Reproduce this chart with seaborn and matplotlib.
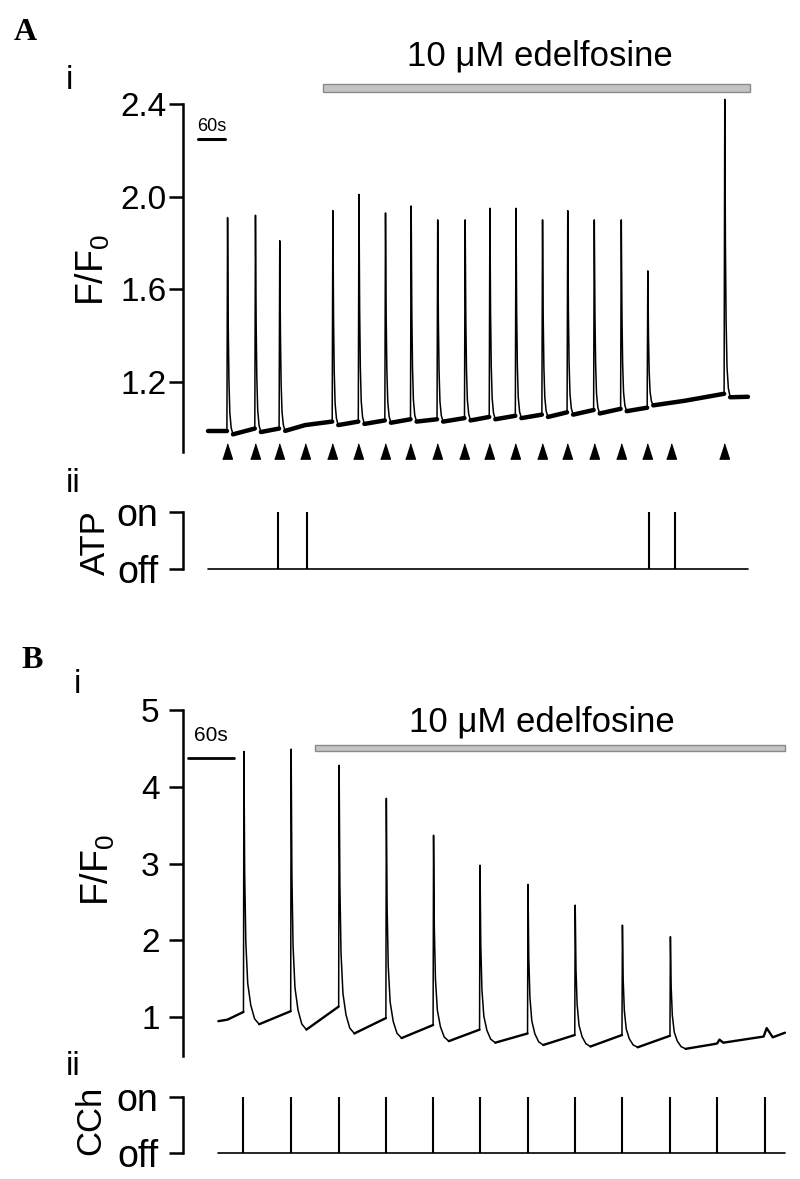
import numpy as np
import pandas as pd
import matplotlib
matplotlib.use("Agg")
import matplotlib.pyplot as plt
import seaborn as sns
from matplotlib.patches import Rectangle

# ---- panel A: ATP-evoked Ca2+ transients (time in s from trace start) ----
a_stim_t = [42, 104, 158, 216, 276, 334, 393, 450, 509, 570, 625, 683, 742, 798,
            857, 917, 976, 1030, 1147]
a_resp_t = [42, 104, 158, 276, 334, 393, 450, 509, 570, 625, 683, 742, 798, 857,
            917, 976, 1147]
a_peak = [1.91, 1.92, 1.81, 1.94, 2.01, 1.93, 1.96, 1.90, 1.90, 1.95, 1.95, 1.90,
          1.94, 1.90, 1.90, 1.68, 2.42]
a_pre = [0.99, 1.00, 1.00, 1.03, 1.03, 1.035, 1.04, 1.04, 1.045, 1.05, 1.055, 1.06,
         1.07, 1.08, 1.085, 1.09, 1.15]
a_post = [0.975, 0.985, 0.99, 1.015, 1.02, 1.025, 1.03, 1.03, 1.035, 1.04, 1.045,
          1.05, 1.06, 1.065, 1.075, 1.10, 1.135]
a_base_t = [0, 216, 1060, 1200]
a_base_v = [0.99, 1.015, 1.12, 1.137]
a_atp_t = [156, 219, 979, 1037]
a_drug = [255, 1204]
a_yticks = [1.2, 1.6, 2.0, 2.4]
a_yticklabels = ["1.2", "1.6", "2.0", "2.4"]

# ---- panel B: CCh-evoked Ca2+ transients ----
b_cch_t = [33, 95, 158, 220, 282, 343, 406, 468, 530, 593, 655, 718]
b_resp_t = [33, 95, 158, 220, 282, 343, 406, 468, 530, 593]
b_peak = [4.46, 4.49, 4.28, 3.85, 3.37, 2.98, 2.73, 2.46, 2.20, 2.05]
b_pre = [1.07, 1.08, 1.14, 0.99, 0.90, 0.84, 0.79, 0.77, 0.77, 0.76]
b_post = [0.91, 0.84, 0.79, 0.73, 0.69, 0.67, 0.64, 0.62, 0.61, 0.59]
b_base_t = [0, 12, 650, 655, 658, 663, 716, 720, 728, 744]
b_base_v = [0.95, 0.97, 0.65, 0.66, 0.71, 0.67, 0.75, 0.86, 0.74, 0.80]
b_drug = [127, 744]
b_yticks = [1, 2, 3, 4, 5]
b_yticklabels = ["1", "2", "3", "4", "5"]

# shape of one transient after its peak (s after peak, fraction of amplitude)
a_decay_dt = [0, 1.5, 3, 5, 8, 12]
a_decay_fr = [1, 0.5, 0.25, 0.1, 0.03, 0]
b_decay_dt = [0, 1, 2.5, 5, 9, 14, 20]
b_decay_fr = [1, 0.55, 0.3, 0.15, 0.07, 0.02, 0]

W, H = 800, 1179


def build_trace(base_t, base_v, resp_t, pre, peak, post, rise, dt, fr):
    spikes, bases = [], []
    seg_t, seg_v = [base_t[0]], [base_v[0]]
    for i, (t, a, p, b) in enumerate(zip(resp_t, pre, peak, post)):
        for kt, kv in zip(base_t, base_v):
            if seg_t[-1] < kt < t:
                seg_t.append(kt)
                seg_v.append(kv)
        seg_t.append(t)
        seg_v.append(a)
        bases.append(pd.DataFrame({"t": seg_t, "v": seg_v, "unit": i}))
        st = [t] + [t + rise + d for d in dt]
        sv = [a] + [b + (p - b) * f for f in fr]
        spikes.append(pd.DataFrame({"t": st, "v": sv, "unit": i}))
        seg_t, seg_v = [st[-1]], [sv[-1]]
    for kt, kv in zip(base_t, base_v):
        if kt > seg_t[-1]:
            seg_t.append(kt)
            seg_v.append(kv)
    bases.append(pd.DataFrame({"t": seg_t, "v": seg_v, "unit": len(resp_t)}))
    return pd.concat(bases, ignore_index=True), pd.concat(spikes, ignore_index=True)


def add_axes_px(left, top, right, bottom):
    return fig.add_axes([left / W, 1 - bottom / H, (right - left) / W, (bottom - top) / H])


def fig_text(x, y, s, **kw):
    fig.text(x / W, 1 - y / H, s, **kw)


def style_axis(ax, bounds, ticks, labels, size, pad):
    for side in ["top", "right", "bottom"]:
        ax.spines[side].set_visible(False)
    ax.spines["left"].set_bounds(*bounds)
    ax.spines["left"].set_linewidth(1.8)
    ax.spines["left"].set_color("black")
    ax.set_xticks([])
    ax.set_yticks(ticks)
    ax.set_yticklabels(labels)
    ax.tick_params(axis="y", length=10, width=1.8, direction="out", pad=pad,
                   labelsize=size, left=True, color="black", labelcolor="black")
    ax.set_xlabel("")
    ax.set_ylabel("")


sns.set_style("white")
plt.rcParams["font.family"] = ["Liberation Sans", "DejaVu Sans"]
plt.rcParams["mathtext.fontset"] = "custom"
plt.rcParams["mathtext.rm"] = "Liberation Sans"
plt.rcParams["text.color"] = "black"

fig = plt.figure(figsize=(W / 100, H / 100), dpi=100)

# ---------------- A i ----------------
ax = add_axes_px(183.3, 92.4, 752, 461)
base, spk = build_trace(a_base_t, a_base_v, a_resp_t, a_pre, a_peak, a_post,
                        1.5, a_decay_dt, a_decay_fr)
sns.lineplot(data=base, x="t", y="v", units="unit", estimator=None, sort=False,
             color="black", linewidth=3.2, ax=ax, legend=False)
sns.lineplot(data=spk, x="t", y="v", units="unit", estimator=None, sort=False,
             color="black", linewidth=1.1, ax=ax, legend=False)
arrow = [(-0.32, -0.5), (0.32, -0.5), (0, 0.5)]
ax.plot(a_stim_t, [0.905] * len(a_stim_t), linestyle="none", marker=arrow,
        markersize=11, color="black", clip_on=False)
ax.set_xlim(-54.9, 1209)
ax.set_ylim(0.86, 2.45)
style_axis(ax, (0.9, 2.4), a_yticks, a_yticklabels, 24, 2)
ax.plot([-22, 38], [2.249, 2.249], color="black", linewidth=2.2)
ax.text(8, 2.285, "60s", ha="center", va="baseline", fontsize=13)
ax.add_patch(Rectangle((a_drug[0], 2.45), a_drug[1] - a_drug[0], 0.036,
                       facecolor="#c4c4c4", edgecolor="#8a8a8a", linewidth=1,
                       clip_on=False))

# ---------------- A ii ----------------
ax2 = add_axes_px(183.3, 505.9, 752, 575.1)
ax2.plot([0, 1200], [0, 0], color="black", linewidth=1.2)
ax2.vlines(a_atp_t, 0, 1, color="black", linewidth=1.5)
ax2.set_xlim(-54.9, 1209)
ax2.set_ylim(-0.1, 1.1)
style_axis(ax2, (0, 1), [0, 1], ["off", "on"], 27, 8)

# ---------------- B i ----------------
ax3 = add_axes_px(183.3, 702.3, 788, 1059.6)
base, spk = build_trace(b_base_t, b_base_v, b_resp_t, b_pre, b_peak, b_post,
                        0.6, b_decay_dt, b_decay_fr)
sns.lineplot(data=base, x="t", y="v", units="unit", estimator=None, sort=False,
             color="black", linewidth=1.7, ax=ax3, legend=False)
sns.lineplot(data=spk, x="t", y="v", units="unit", estimator=None, sort=False,
             color="black", linewidth=1.1, ax=ax3, legend=False)
ax3.set_xlim(-46, 748)
ax3.set_ylim(0.45, 5.1)
style_axis(ax3, (0.5, 5), b_yticks, b_yticklabels, 24, 7)
ax3.plot([-39.4, 20.6], [4.37, 4.37], color="black", linewidth=2.0)
ax3.text(-9.4, 4.6, "60s", ha="center", va="baseline", fontsize=15)
ax3.add_patch(Rectangle((b_drug[0], 4.466), b_drug[1] - b_drug[0], 0.078,
                        facecolor="#c4c4c4", edgecolor="#8a8a8a", linewidth=1,
                        clip_on=False))

# ---------------- B ii ----------------
ax4 = add_axes_px(183.3, 1090.9, 788, 1159)
ax4.plot([0, 744], [0, 0], color="black", linewidth=1.2)
ax4.vlines(b_cch_t, 0, 1, color="black", linewidth=1.5)
ax4.set_xlim(-46, 748)
ax4.set_ylim(-0.1, 1.1)
style_axis(ax4, (0, 1), [0, 1], ["off", "on"], 27, 8)

# ---------------- labels ----------------
serif = ["Liberation Serif", "DejaVu Serif"]
fig_text(14, 40, "A", family=serif, fontweight="bold", fontsize=23, va="baseline")
fig_text(21, 668, "B", family=serif, fontweight="bold", fontsize=23, va="baseline")
fig_text(66, 89, "i", fontsize=24, va="baseline")
fig_text(66, 492, "ii", fontsize=24, va="baseline")
fig_text(74, 693, "i", fontsize=24, va="baseline")
fig_text(66, 1075, "ii", fontsize=24, va="baseline")
fig_text(540, 66, "10 \u03bcM edelfosine", fontsize=25, ha="center", va="baseline")
fig_text(542, 731, "10 \u03bcM edelfosine", fontsize=25, ha="center", va="baseline")
fig_text(93, 270, r"F/F$_\mathregular{0}$", fontsize=27, rotation=90,
         ha="center", va="center")
fig_text(98, 870, r"F/F$_\mathregular{0}$", fontsize=27, rotation=90,
         ha="center", va="center")
fig_text(95, 543, "ATP", fontsize=25, rotation=90, ha="center", va="center")
fig_text(91, 1120, "CCh", fontsize=25, rotation=90, ha="center", va="center")

fig.savefig("out.png", dpi=100)
